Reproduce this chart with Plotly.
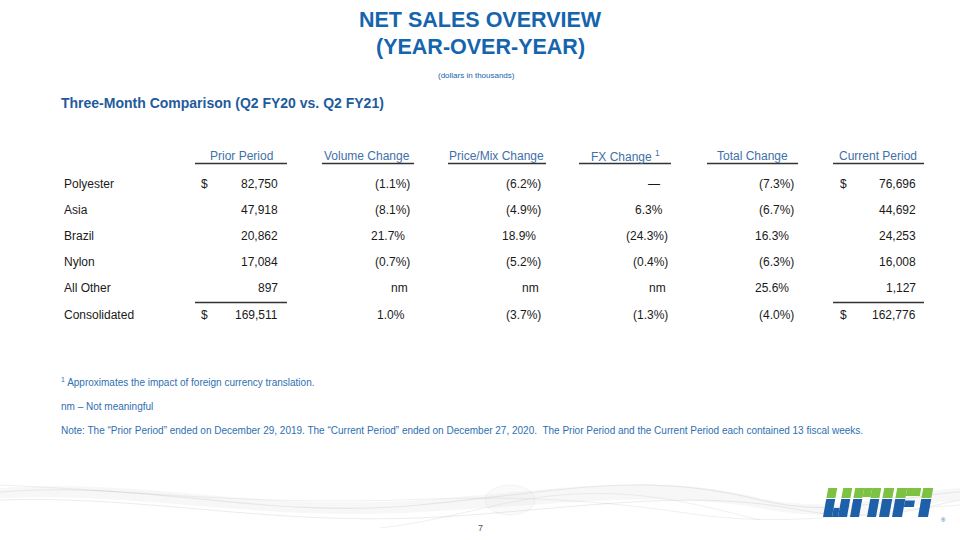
import plotly.graph_objects as go

# ---------------- data ----------------
title_lines = ["NET SALES OVERVIEW", "(YEAR-OVER-YEAR)"]
units_note = "(dollars in thousands)"
section_title = "Three-Month Comparison (Q2 FY20 vs. Q2 FY21)"
column_headers = ["Prior Period", "Volume Change", "Price/Mix Change",
                  "FX Change <sup>1</sup>", "Total Change", "Current Period"]
segments = ["Polyester", "Asia", "Brazil", "Nylon", "All Other", "Consolidated"]
prior_period = ["82,750", "47,918", "20,862", "17,084", "897", "169,511"]
volume_change = ["(1.1%)", "(8.1%)", "21.7%", "(0.7%)", "nm", "1.0%"]
price_mix_change = ["(6.2%)", "(4.9%)", "18.9%", "(5.2%)", "nm", "(3.7%)"]
fx_change = ["—", "6.3%", "(24.3%)", "(0.4%)", "nm", "(1.3%)"]
total_change = ["(7.3%)", "(6.7%)", "16.3%", "(6.3%)", "25.6%", "(4.0%)"]
current_period = ["76,696", "44,692", "24,253", "16,008", "1,127", "162,776"]
dollar_rows = ["Polyester", "Consolidated"]
footnotes = [
    "<sup>1</sup> Approximates the impact of foreign currency translation.",
    "nm – Not meaningful",
    "Note: The “Prior Period” ended on December 29, 2019. The “Current Period” ended on December 27, 2020.  "
    "The Prior Period and the Current Period each contained 13 fiscal weeks.",
]
page_number = "7"

# ---------------- style ----------------
FONT = "Arial, Liberation Sans, sans-serif"
TITLE_BLUE = "#1464AE"
SECTION_BLUE = "#1F5B9C"
HEADER_BLUE = "#4170A8"
NOTE_BLUE = "#2E6FB2"
BODY = "#1A1A1A"
LOGO_BLUE = "#1E5FAA"
LOGO_GREEN = "#7DC243"

row_y0, row_dy = 183.5, 26.2
header_y = 156
header_centers = [241, 367, 496, 625, 752, 878]
underline_spans = [(195, 287), (322, 414), (448, 546), (579, 671), (707, 798), (833, 924)]
value_right = [280, 412, 543, 670, 796, 918]
dollar_x = [199, 838]

fig = go.Figure()
fig.update_layout(
    width=960, height=540, margin=dict(l=0, r=0, t=0, b=0),
    paper_bgcolor="white", plot_bgcolor="white", showlegend=False,
    xaxis=dict(range=[0, 960], visible=False, fixedrange=True),
    yaxis=dict(range=[540, 0], visible=False, fixedrange=True),
)

ann = []
shapes = []

def text(x, y, s, size=12, color=BODY, xanchor="left", bold=False, family=FONT):
    ann.append(dict(x=x, y=y, xref="x", yref="y", text=s, showarrow=False,
                    xanchor=xanchor, yanchor="middle",
                    font=dict(family=family, size=size, color=color,
                              weight="bold" if bold else "normal")))

# background swooshes
swoosh = [
    ("M 0,492 C 150,480 260,520 420,505 C 560,492 640,470 760,500 C 840,520 900,495 960,492", 1.2),
    ("M 0,500 C 160,495 280,530 470,515 C 600,505 700,490 800,510 C 880,525 930,505 960,500", 1.0),
    ("M 0,485 C 120,490 250,505 400,500 C 520,495 600,500 700,515 C 800,528 880,510 960,505", 0.8),
    ("M 380,528 C 450,520 500,500 560,495 C 640,488 700,505 760,520", 0.8),
]
for p, w in swoosh:
    shapes.append(dict(type="path", path=p, xref="x", yref="y", layer="below",
                       line=dict(color="rgba(150,150,150,0.18)", width=w)))
shapes.append(dict(type="path", xref="x", yref="y", layer="below",
                   path="M 0,488 C 150,478 260,512 420,500 C 560,490 650,472 760,498 C 840,515 900,492 960,488 "
                        "L 960,500 C 900,505 840,525 760,508 C 650,490 560,505 420,512 C 260,522 150,492 0,498 Z",
                   fillcolor="rgba(200,200,200,0.15)", line=dict(width=0)))
shapes.append(dict(type="circle", xref="x", yref="y", layer="below", x0=485, x1=535, y0=485, y1=515,
                   fillcolor="rgba(220,220,220,0.15)", line=dict(color="rgba(170,170,170,0.15)", width=0.8)))

# titles
text(480, 20, title_lines[0], size=21.5, color=TITLE_BLUE, xanchor="center", bold=True)
text(480, 47, title_lines[1], size=21.5, color=TITLE_BLUE, xanchor="center", bold=True)
text(476, 75, units_note, size=8, color=TITLE_BLUE, xanchor="center")
text(59, 103, section_title, size=14, color=SECTION_BLUE, bold=True)

# headers
for h, cx, (a, b) in zip(column_headers, header_centers, underline_spans):
    text(cx, header_y, h, size=12, color=HEADER_BLUE, xanchor="center")
    shapes.append(dict(type="line", xref="x", yref="y", x0=a, x1=b, y0=163.5, y1=163.5,
                       line=dict(color="#333333", width=1.5)))

def offset(v):
    if v.startswith("("):
        return 0
    if v == "nm":
        return -2
    if v == "—":
        return -8
    if v.endswith("%"):
        return -5
    return 0

columns = [prior_period, volume_change, price_mix_change, fx_change, total_change, current_period]
for i, seg in enumerate(segments):
    y = row_y0 + i * row_dy
    text(62, y, seg, size=12)
    for col, xr in zip(columns, value_right):
        v = col[i]
        text(xr + offset(v), y, v, size=12, xanchor="right")
    if seg in dollar_rows:
        for dx in dollar_x:
            text(dx, y, "$", size=12)

# subtotal lines under "All Other"
sub_y = row_y0 + 4.5 * row_dy + 1
for idx in (0, 5):
    a, b = underline_spans[idx]
    shapes.append(dict(type="line", xref="x", yref="y", x0=a, x1=b, y0=sub_y, y1=sub_y,
                       line=dict(color="#333333", width=1.5)))

# footnotes
for s, y in zip(footnotes, [382, 406, 430]):
    text(59, y, s, size=10, color=NOTE_BLUE)

# page number
text(480, 528, page_number, size=9, color="#555555", xanchor="center")

# ---------------- logo (block letters, green top / blue bottom) ----------------
LX, LY, LH, SLANT, SPLIT = 823, 488, 29, 0.18, 10
letters = [
    (0, [(0, 9, 0, 29), (15, 24, 0, 29), (9, 15, 20, 29)]),       # U
    (27, [(0, 9, 0, 29), (17, 26, 0, 29), (9, 17, 0, 9)]),        # N
    (56, [(0, 10, 0, 29)]),                                       # I
    (69, [(0, 10, 0, 29), (10, 24, 0, 8), (10, 20, 12.5, 19)]),   # F
    (95, [(0, 10, 0, 29)]),                                       # I
]

def poly(x0, x1, y0, y1):
    pts = [(x0, y0), (x1, y0), (x1, y1), (x0, y1)]
    return "M " + " L ".join(f"{LX + x + SLANT * (LH - y):.2f},{LY + y:.2f}" for x, y in pts) + " Z"

for ox, rects in letters:
    for (a, b, c, d) in rects:
        if c < SPLIT:
            shapes.append(dict(type="path", xref="x", yref="y",
                               path=poly(ox + a, ox + b, c, min(d, SPLIT)),
                               fillcolor=LOGO_GREEN, line=dict(width=0)))
        if d > SPLIT + 1:
            shapes.append(dict(type="path", xref="x", yref="y",
                               path=poly(ox + a, ox + b, max(c, SPLIT + 1), d),
                               fillcolor=LOGO_BLUE, line=dict(width=0)))
text(943, 520, "®", size=6, color=LOGO_BLUE, xanchor="center")

fig.update_layout(annotations=ann, shapes=shapes)
fig.write_html("out.html", config={"displayModeBar": False},
               post_script="document.body.style.margin='0px';")
